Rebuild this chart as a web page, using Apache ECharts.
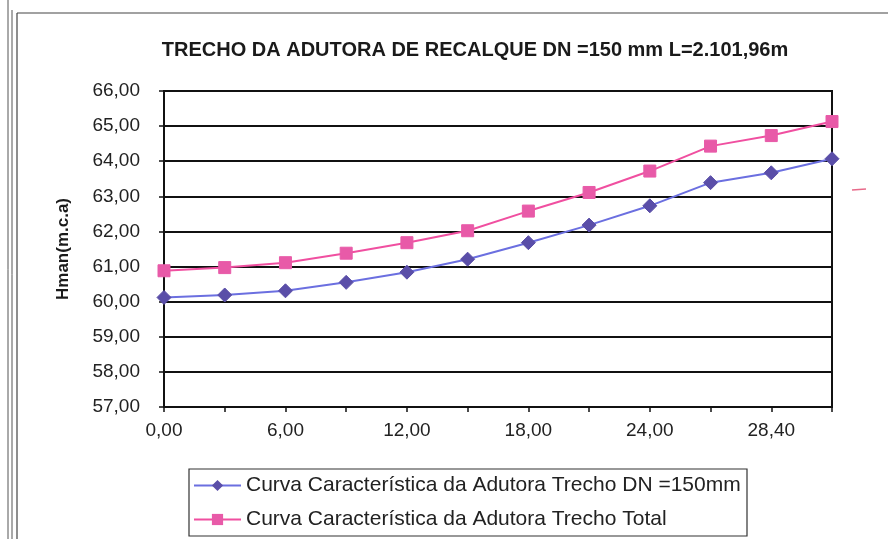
<!DOCTYPE html>
<html>
<head>
<meta charset="utf-8">
<script src="https://cdn.jsdelivr.net/npm/echarts@6/dist/echarts.min.js"></script>
<style>
html,body{margin:0;padding:0;background:#fff;}
#c{width:888px;height:539px;}
</style>
</head>
<body>
<div id="c"></div>
<script>
const titleText = 'TRECHO DA ADUTORA DE RECALQUE DN =150 mm L=2.101,96m';
const yAxisName = 'Hman(m.c.a)';
const categories = ['0,00','3,00','6,00','9,00','12,00','15,00','18,00','21,00','24,00','26,00','28,40','30,00'];
const seriesDN150Name = 'Curva Característica da Adutora Trecho DN =150mm';
const seriesDN150 = [60.12, 60.19, 60.31, 60.55, 60.84, 61.21, 61.68, 62.18, 62.73, 63.39, 63.67, 64.07];
const seriesTotalName = 'Curva Característica da Adutora Trecho Total';
const seriesTotal = [60.88, 60.97, 61.11, 61.38, 61.68, 62.02, 62.58, 63.11, 63.72, 64.43, 64.73, 65.13];
const yMin = 57, yMax = 66, yStep = 1;

const chart = echarts.init(document.getElementById('c'), null, {renderer:'canvas'});
const font = '"Liberation Sans", Arial, sans-serif';
const fmt = v => v.toFixed(2).replace('.', ',');

chart.setOption({
  animation: false,
  backgroundColor: '#fff',
  textStyle: {fontFamily: font},
  title: {
    text: titleText, left: 470, top: 35, textAlign: 'center',
    textStyle: {fontFamily: font, fontSize: 20, fontWeight: 'bold', color: '#1a1a1a'}
  },
  grid: {left: 164, right: 56, top: 91, bottom: 132, show: true, borderColor: '#111', borderWidth: 2, backgroundColor: 'transparent'},
  xAxis: {
    type: 'category', data: categories, boundaryGap: false,
    axisLine: {lineStyle: {color: '#111', width: 2}},
    axisTick: {show: true, interval: 0, length: 5, lineStyle: {color: '#111', width: 1.5}},
    axisLabel: {interval: 1, fontSize: 19, color: '#222', margin: 14, fontFamily: font},
    splitLine: {show: false}
  },
  yAxis: {
    type: 'value', min: yMin, max: yMax, interval: yStep,
    name: yAxisName, nameLocation: 'middle', nameGap: 92, nameRotate: 90,
    nameTextStyle: {fontSize: 17, fontWeight: 'bold', color: '#1a1a1a', fontFamily: font},
    axisLine: {show: true, lineStyle: {color: '#111', width: 2}},
    axisTick: {show: true, length: 5, lineStyle: {color: '#111', width: 1.5}},
    axisLabel: {fontSize: 19, color: '#222', margin: 24, formatter: fmt, fontFamily: font},
    splitLine: {show: true, lineStyle: {color: '#111', width: 2}}
  },
  legend: {
    orient: 'vertical', left: 188, top: 470,
    itemWidth: 47, itemHeight: 14, itemGap: 13,
    textStyle: {fontSize: 21, color: '#222', fontFamily: font},
    data: [seriesDN150Name, seriesTotalName]
  },
  graphic: [
    {type: 'rect', shape: {x: 189, y: 469, width: 558, height: 67}, style: {fill: 'none', stroke: '#333', lineWidth: 1.2}, z: 10},
    {type: 'line', shape: {x1: 8, y1: 0, x2: 8, y2: 539}, style: {stroke: '#555', lineWidth: 1}},
    {type: 'line', shape: {x1: 12, y1: 10, x2: 12, y2: 539}, style: {stroke: '#555', lineWidth: 1}},
    {type: 'line', shape: {x1: 17, y1: 13, x2: 17, y2: 539}, style: {stroke: '#444', lineWidth: 1.2}},
    {type: 'line', shape: {x1: 17, y1: 13, x2: 888, y2: 13}, style: {stroke: '#444', lineWidth: 1.2}},
    {type: 'line', shape: {x1: 852, y1: 190, x2: 866, y2: 189}, style: {stroke: '#e86a8a', lineWidth: 1.5}}
  ],
  series: [
    {
      name: seriesDN150Name, type: 'line', data: seriesDN150,
      symbol: 'diamond', symbolSize: 14,
      lineStyle: {color: '#6b6fe0', width: 2},
      itemStyle: {color: '#5a4ea8', borderColor: '#5a4ea8'},
      z: 5
    },
    {
      name: seriesTotalName, type: 'line', data: seriesTotal,
      symbol: 'rect', symbolSize: 12,
      lineStyle: {color: '#f04fa0', width: 2},
      itemStyle: {color: '#e85aa8', borderColor: '#e85aa8'},
      z: 5
    }
  ]
});
</script>
</body>
</html>
